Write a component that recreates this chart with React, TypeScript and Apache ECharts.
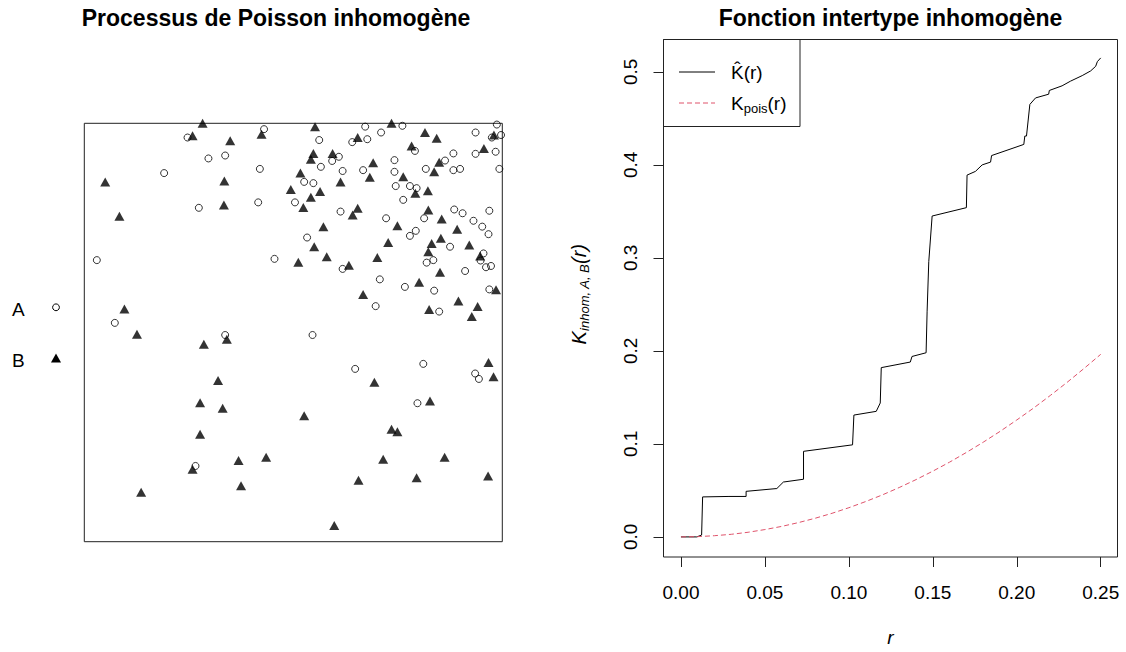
import React, { useEffect, useRef } from "react";
import * as echarts from "echarts";

// Point pattern (unit square window): type A (circles) and type B (triangles)
const aX = [0.247,0.430,0.297,0.337,0.420,0.191,0.274,0.416,0.504,0.030,0.455,0.073,0.337,0.266,0.546,0.648,0.811,0.935,0.944,0.797,0.672,0.761,0.987,0.936,0.975,0.997,0.710,0.562,0.641,0.677,0.791,0.936,0.984,0.883,0.609,0.593,0.566,0.742,0.863,0.817,0.883,0.899,0.993,0.618,0.667,0.742,0.526,0.548,0.745,0.779,0.795,0.763,0.613,0.885,0.905,0.969,0.813,0.722,0.931,0.952,0.967,0.533,0.779,0.793,0.875,0.835,0.819,0.955,0.948,0.961,0.973,0.618,0.911,0.707,0.767,0.837,0.969,0.697,0.849];
const aY = [0.966,0.986,0.916,0.923,0.891,0.881,0.798,0.811,0.811,0.673,0.676,0.523,0.494,0.181,0.494,0.413,0.425,0.402,0.389,0.331,0.992,0.994,0.997,0.978,0.966,0.972,0.978,0.960,0.955,0.962,0.934,0.927,0.932,0.928,0.920,0.910,0.896,0.912,0.911,0.891,0.888,0.891,0.891,0.886,0.888,0.884,0.860,0.857,0.850,0.850,0.845,0.817,0.789,0.794,0.785,0.791,0.773,0.773,0.767,0.753,0.735,0.727,0.731,0.743,0.705,0.673,0.667,0.689,0.672,0.656,0.659,0.652,0.647,0.627,0.609,0.600,0.603,0.563,0.550];
const bX = [0.283,0.259,0.349,0.424,0.335,0.050,0.517,0.494,0.334,0.084,0.512,0.096,0.126,0.286,0.341,0.320,0.277,0.331,0.277,0.369,0.435,0.259,0.375,0.136,0.967,0.979,0.694,0.827,0.526,0.735,0.749,0.715,0.862,0.656,0.795,0.966,0.598,0.552,0.735,0.815,0.843,0.980,0.654,0.783,0.956,0.548,0.542,0.594,0.691,0.849,0.837,0.683,0.763,0.613,0.792,0.822,0.564,0.542,0.524,0.654,0.642,0.823,0.855,0.572,0.749,0.892,0.853,0.831,0.727,0.550,0.921,0.823,0.580,0.701,0.947,0.633,0.851,0.801,0.985,0.667,0.895,0.825,0.941,0.927];
const bY = [1.000,0.970,0.958,0.974,0.862,0.860,0.881,0.842,0.805,0.778,0.668,0.556,0.496,0.472,0.484,0.385,0.332,0.319,0.257,0.194,0.202,0.173,0.134,0.118,0.428,0.394,0.381,0.336,0.301,0.269,0.263,0.197,0.202,0.147,0.153,0.157,0.039,0.992,1.000,0.978,0.964,0.972,0.966,0.946,0.940,0.928,0.914,0.928,0.906,0.907,0.884,0.871,0.872,0.860,0.833,0.839,0.837,0.823,0.799,0.797,0.781,0.793,0.771,0.753,0.755,0.747,0.725,0.713,0.715,0.705,0.709,0.693,0.681,0.679,0.683,0.661,0.644,0.620,0.602,0.591,0.575,0.555,0.562,0.538];

// Estimated inhomogeneous cross K-function (step curve)
const kHatR = [0,0.0094,0.0123,0.0129,0.0286,0.0388,0.0388,0.0571,0.061,0.073,0.073,0.1022,0.103,0.1163,0.1187,0.1193,0.1366,0.1376,0.146,0.1466,0.1476,0.1496,0.170,0.1704,0.1754,0.1794,0.1844,0.185,0.2042,0.2048,0.2058,0.2078,0.2112,0.219,0.2194,0.227,0.232,0.239,0.244,0.247,0.248,0.25];
const kHatV = [0,0,0.002,0.043,0.0435,0.0435,0.049,0.052,0.059,0.062,0.092,0.099,0.131,0.135,0.144,0.182,0.188,0.194,0.198,0.242,0.296,0.345,0.354,0.389,0.393,0.400,0.403,0.410,0.422,0.431,0.431,0.465,0.472,0.476,0.480,0.485,0.490,0.496,0.501,0.506,0.511,0.515];

// Theoretical Poisson curve
const kPoisR = [0,0.01,0.02,0.03,0.04,0.05,0.06,0.07,0.08,0.09,0.10,0.11,0.12,0.13,0.14,0.15,0.16,0.17,0.18,0.19,0.20,0.21,0.22,0.23,0.24,0.25];
const kPoisV = [0,0.0003,0.0013,0.0028,0.005,0.0079,0.0113,0.0154,0.0201,0.0254,0.0314,0.038,0.0452,0.0531,0.0616,0.0707,0.0804,0.0908,0.1018,0.1134,0.1257,0.1385,0.1521,0.1662,0.181,0.1963];

const xTicks = [0, 0.05, 0.1, 0.15, 0.2, 0.25];
const yTicks = [0, 0.1, 0.2, 0.3, 0.4, 0.5];

const FONT = "'Liberation Sans', Arial, Helvetica, sans-serif";

export default function App() {
  const ref = useRef<HTMLDivElement>(null);
  useEffect(() => {
    document.body.style.margin = "0";
    const chart = echarts.init(ref.current!, null, { renderer: "svg" });
    const zip = (xs: number[], ys: number[]) => xs.map((x, i) => [x, ys[i]]);
    const option: any = {
      animation: false,
      backgroundColor: "#fff",
      title: [
        {
          text: "Processus de Poisson inhomogène",
          left: 276, top: 6, textAlign: "center", padding: 0,
          textStyle: { fontFamily: FONT, fontSize: 23, fontWeight: "bold", color: "#000" },
        },
        {
          text: "Fonction intertype inhomogène",
          left: 890.5, top: 6, textAlign: "center", padding: 0,
          textStyle: { fontFamily: FONT, fontSize: 23, fontWeight: "bold", color: "#000" },
        },
      ],
      grid: [
        { left: 84.3, top: 123.3, width: 418, height: 418.4, show: true, borderColor: "#222", borderWidth: 1, backgroundColor: "transparent" },
        { left: 663.5, top: 39.5, width: 454, height: 520, show: true, borderColor: "#222", borderWidth: 1, backgroundColor: "transparent" },
      ],
      xAxis: [
        { type: "value", gridIndex: 0, min: 0, max: 1, show: false },
        {
          type: "value", gridIndex: 1, min: -0.0104, max: 0.26, position: "bottom",
          axisLine: { show: false, onZero: false }, splitLine: { show: false },
          axisTick: { show: true, inside: false, customValues: xTicks, length: 10, lineStyle: { color: "#222", width: 1 } },
          axisLabel: { customValues: xTicks, formatter: (v: number) => v.toFixed(2), margin: 26, fontSize: 19, fontFamily: FONT, color: "#000" },
          name: "r", nameLocation: "middle", nameGap: 71,
          nameTextStyle: { fontSize: 19, fontFamily: FONT, fontStyle: "italic", color: "#000" },
        },
      ],
      yAxis: [
        { type: "value", gridIndex: 0, min: 0, max: 1, show: false },
        {
          type: "value", gridIndex: 1, min: -0.0216, max: 0.5348, position: "left",
          axisLine: { show: false, onZero: false }, splitLine: { show: false },
          axisTick: { show: true, inside: false, customValues: yTicks, length: 10, lineStyle: { color: "#222", width: 1 } },
          axisLabel: { customValues: yTicks, formatter: (v: number) => v.toFixed(1), rotate: 90, margin: 24, fontSize: 19, fontFamily: FONT, color: "#000" },
          name: "{k|K}{s|inhom, A, B}{k|(r)}", nameLocation: "middle", nameGap: 73, nameRotate: 90,
          nameTextStyle: {
            fontFamily: FONT, color: "#000", padding: [0, 0, 0, 8],
            rich: {
              k: { fontSize: 20, fontStyle: "italic", fontFamily: FONT, color: "#000", lineHeight: 24, verticalAlign: "middle" },
              s: { fontSize: 13, fontStyle: "italic", fontFamily: FONT, color: "#000", lineHeight: 24, verticalAlign: "bottom" },
            },
          },
        },
      ],
      series: [
        {
          name: "A", type: "scatter", xAxisIndex: 0, yAxisIndex: 0,
          data: zip(aX, aY), symbol: "circle", symbolSize: 7,
          itemStyle: { color: "rgba(255,255,255,0)", borderColor: "#000", borderWidth: 1 },
          clip: false,
        },
        {
          name: "B", type: "scatter", xAxisIndex: 0, yAxisIndex: 0,
          data: zip(bX, bY), symbol: "triangle", symbolSize: [10, 9],
          itemStyle: { color: "#000" },
          clip: false,
        },
        {
          name: "K_hat", type: "line", xAxisIndex: 1, yAxisIndex: 1,
          data: zip(kHatR, kHatV), showSymbol: false, symbol: "none",
          lineStyle: { color: "#000", width: 1 },
        },
        {
          name: "K_pois", type: "line", xAxisIndex: 1, yAxisIndex: 1,
          data: zip(kPoisR, kPoisV), showSymbol: false, symbol: "none", smooth: false,
          lineStyle: { color: "#DF536B", width: 1, type: [5, 3] },
        },
      ],
      graphic: [
        { type: "text", x: 18.3, y: 309.3, style: { text: "A", fontSize: 19, fontFamily: FONT, fill: "#000", textAlign: "center", textVerticalAlign: "middle" } },
        { type: "circle", shape: { cx: 56, cy: 307.3, r: 3.4 }, style: { fill: "none", stroke: "#000", lineWidth: 1 } },
        { type: "text", x: 18.3, y: 360, style: { text: "B", fontSize: 19, fontFamily: FONT, fill: "#000", textAlign: "center", textVerticalAlign: "middle" } },
        { type: "polygon", shape: { points: [[51, 362.5], [61, 362.5], [56, 353.5]] }, style: { fill: "#000" } },
        { type: "rect", shape: { x: 663.5, y: 39.5, width: 136.5, height: 87 }, style: { fill: "none", stroke: "#222", lineWidth: 1 } },
        { type: "line", shape: { x1: 679, y1: 72, x2: 715, y2: 72 }, style: { stroke: "#000", lineWidth: 1 } },
        { type: "text", x: 731, y: 72, style: { text: "K\u0302(r)", fontSize: 19, fontFamily: FONT, fill: "#000", textAlign: "left", textVerticalAlign: "middle" } },
        { type: "line", shape: { x1: 679, y1: 103, x2: 715, y2: 103 }, style: { stroke: "#DF536B", lineWidth: 1, lineDash: [5, 3] } },
        {
          type: "text", x: 731, y: 103,
          style: {
            text: "{k|K}{s|pois}{k|(r)}", fill: "#000", textAlign: "left", textVerticalAlign: "middle",
            rich: {
              k: { fontSize: 19, fontFamily: FONT, fill: "#000", lineHeight: 24, verticalAlign: "middle" },
              s: { fontSize: 13, fontFamily: FONT, fill: "#000", lineHeight: 24, verticalAlign: "bottom" },
            },
          },
        },
      ],
    };
    chart.setOption(option);
    return () => chart.dispose();
  }, []);
  return <div ref={ref} style={{ width: 1126, height: 652 }} />;
}
